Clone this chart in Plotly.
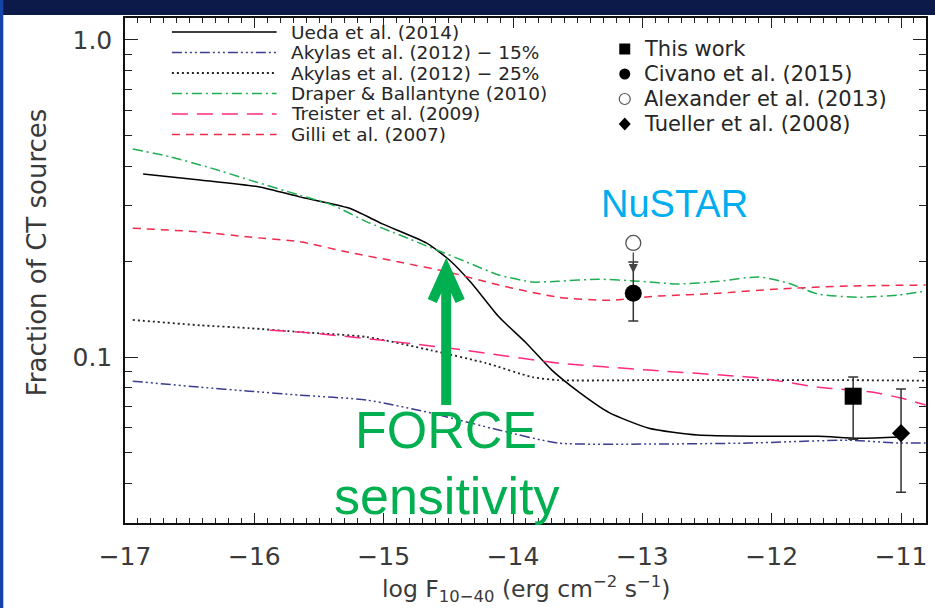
import math
import plotly.graph_objects as go

# ---------------- data ----------------
ueda_x = [-16.86, -16.42, -15.96, -15.65, -15.27, -15.01, -14.67, -14.49, -14.32, -14.11,
          -13.90, -13.70, -13.49, -13.26, -12.95, -12.57, -12.10, -11.64, -11.33, -11.00]
ueda_y = [0.378, 0.362, 0.344, 0.320, 0.295, 0.263, 0.229, 0.202, 0.171, 0.134,
          0.111, 0.091, 0.0776, 0.067, 0.0597, 0.0568, 0.0563, 0.0563, 0.0555, 0.056]

ak15_x = [-16.94, -16.42, -16.04, -15.65, -15.13, -14.63, -14.11, -13.65, -12.95, -12.18,
          -11.41, -11.02, -10.81]
ak15_y = [0.084, 0.0804, 0.0781, 0.0759, 0.0732, 0.0666, 0.0589, 0.0536, 0.0532, 0.0536,
          0.0547, 0.0536, 0.0536]

ak25_x = [-16.94, -16.42, -16.04, -15.65, -15.13, -14.63, -14.21, -13.85, -13.65, -12.95,
          -12.18, -11.41, -10.81]
ak25_y = [0.131, 0.126, 0.1234, 0.120, 0.1157, 0.105, 0.0958, 0.0865, 0.0846, 0.0846,
          0.0846, 0.0846, 0.0843]

draper_x = [-16.94, -16.65, -16.34, -16.04, -15.65, -15.40, -15.13, -14.88, -14.63, -14.36,
            -14.11, -13.85, -13.65, -13.34, -13.03, -12.72, -12.41, -12.10, -11.87, -11.64,
            -11.33, -11.02, -10.81]
draper_y = [0.453, 0.428, 0.395, 0.362, 0.324, 0.302, 0.267, 0.243, 0.221, 0.1995,
            0.1815, 0.1725, 0.1735, 0.176, 0.1735, 0.170, 0.1735, 0.179, 0.171, 0.158,
            0.1545, 0.157, 0.1615]

treister_x = [-15.88, -15.65, -15.01, -14.36, -13.65, -12.95, -12.10, -11.64,
              -11.23, -11.00, -10.81]
treister_y = [0.1216, 0.120, 0.113, 0.105, 0.0958, 0.091, 0.0859, 0.0804,
              0.0776, 0.0743, 0.0706]

gilli_x = [-16.94, -16.42, -16.04, -15.65, -15.27, -14.88, -14.49, -14.11, -13.65, -13.26,
           -12.88, -12.41, -11.95, -11.41, -10.81]
gilli_y = [0.255, 0.248, 0.239, 0.231, 0.214, 0.1995, 0.185, 0.1687, 0.1545, 0.151,
           0.1557, 0.159, 0.164, 0.1675, 0.1687]

# data points: x, y, upper, lower
this_x, this_y, this_hi, this_lo = [-11.37], [0.0753], [0.0866], [0.0551]
civano_x, civano_y, civano_hi, civano_lo = [-13.07], [0.159], [0.1995], [0.130]
alex_x, alex_y = [-13.07], [0.229]
alex_limit_tip = [0.184]
tueller_x, tueller_y, tueller_hi, tueller_lo = [-11.0], [0.0576], [0.0793], [0.0375]

x_ticks = [-17, -16, -15, -14, -13, -12, -11]
y_ticks = [0.1, 1.0]
y_ticktext = ["0.1", "1.0"]
y_minor = [0.03, 0.04, 0.05, 0.06, 0.07, 0.08, 0.09, 0.2, 0.3, 0.4, 0.5, 0.6, 0.7, 0.8, 0.9]

legend_lines = ["Ueda et al. (2014)", "Akylas et al. (2012) \u2212 15%", "Akylas et al. (2012) \u2212 25%",
                "Draper & Ballantyne (2010)", "Treister et al. (2009)", "Gilli et al. (2007)"]
legend_points = ["This work", "Civano et al. (2015)", "Alexander et al. (2013)", "Tueller et al. (2008)"]

# ---------------- styles ----------------
C_UEDA = "#000000"
C_AK15 = "#3c3c8c"
C_AK25 = "#222222"
C_DRAPER = "#1fae52"
C_TREISTER = "#ff2a80"
C_GILLI = "#ef2a4c"
D_AK15 = "10px,3px,2px,3px,2px,3px,2px,3px"
D_AK25 = "2px,3px"
D_DRAPER = "10px,4px,2px,4px"
D_TREISTER = "16px,9px"
D_GILLI = "8px,6px"
FONT = "DejaVu Sans"
TXT = "#3a3a3a"

W, H = 935, 608
L, R, T, B = 125, 928, 18, 523


def px(xp):
    return (xp - L) / (R - L)


def py(yp):
    return (B - yp) / (B - T)


fig = go.Figure()

curves = [
    (ueda_x, ueda_y, C_UEDA, "solid", 1.5),
    (ak15_x, ak15_y, C_AK15, D_AK15, 1.5),
    (ak25_x, ak25_y, C_AK25, D_AK25, 1.8),
    (draper_x, draper_y, C_DRAPER, D_DRAPER, 1.5),
    (treister_x, treister_y, C_TREISTER, D_TREISTER, 1.5),
    (gilli_x, gilli_y, C_GILLI, D_GILLI, 1.5),
]
for (xs, ys, col, dash, w), name in zip(curves, legend_lines):
    fig.add_trace(go.Scatter(x=xs, y=ys, mode="lines", name=name, showlegend=False,
                             line=dict(color=col, dash=dash, width=w, shape="spline", smoothing=0.6)))


def errs(y, hi, lo):
    return dict(type="data", symmetric=False,
                array=[h - v for h, v in zip(hi, y)],
                arrayminus=[v - l for l, v in zip(lo, y)],
                color="#333333", thickness=1.5, width=5)


fig.add_trace(go.Scatter(x=this_x, y=this_y, mode="markers", name=legend_points[0], showlegend=False,
                         marker=dict(symbol="square", size=17, color="black"),
                         error_y=errs(this_y, this_hi, this_lo)))
fig.add_trace(go.Scatter(x=civano_x, y=civano_y, mode="markers", name=legend_points[1], showlegend=False,
                         marker=dict(symbol="circle", size=17, color="black"),
                         error_y=errs(civano_y, civano_hi, civano_lo)))
fig.add_trace(go.Scatter(x=alex_x, y=alex_y, mode="markers", name=legend_points[2], showlegend=False,
                         marker=dict(symbol="circle-open", size=15, color="#555555", line=dict(width=1.3))))
fig.add_trace(go.Scatter(x=tueller_x, y=tueller_y, mode="markers", name=legend_points[3], showlegend=False,
                         marker=dict(symbol="diamond", size=14, color="black"),
                         error_y=errs(tueller_y, tueller_hi, tueller_lo)))

shapes = []
annotations = []

# upper-limit arrow for Alexander et al.
annotations.append(dict(x=alex_x[0], y=math.log10(alex_limit_tip[0]), xref="x", yref="y",
                        ax=0, ay=-22, text="", showarrow=True, arrowhead=2, arrowsize=1.4,
                        arrowwidth=1.3, arrowcolor="#444444", standoff=0))

# custom legend - lines
rows_l = [32, 52.5, 73, 93.5, 114, 134.5]
for (xs, ys, col, dash, w), name, yy in zip(curves, legend_lines, rows_l):
    shapes.append(dict(type="line", xref="paper", yref="paper", x0=px(172), x1=px(277),
                       y0=py(yy), y1=py(yy), line=dict(color=col, dash=dash, width=w)))
    annotations.append(dict(x=px(289), y=py(yy), xref="paper", yref="paper", text=name,
                            showarrow=False, xanchor="left", yanchor="middle",
                            font=dict(family=FONT, size=18.5, color="#262626")))

# custom legend - points
rows_r = [49, 74, 99, 124]
mx = 626
r = 5.5
shapes.append(dict(type="rect", xref="paper", yref="paper", x0=px(mx - r), x1=px(mx + r),
                   y0=py(rows_r[0] + r), y1=py(rows_r[0] - r), fillcolor="black", line=dict(width=0)))
shapes.append(dict(type="circle", xref="paper", yref="paper", x0=px(mx - r), x1=px(mx + r),
                   y0=py(rows_r[1] + r), y1=py(rows_r[1] - r), fillcolor="black", line=dict(width=0)))
shapes.append(dict(type="circle", xref="paper", yref="paper", x0=px(mx - r), x1=px(mx + r),
                   y0=py(rows_r[2] + r), y1=py(rows_r[2] - r), fillcolor="rgba(0,0,0,0)",
                   line=dict(color="#555555", width=1.2)))
yd = rows_r[3]
shapes.append(dict(type="path", xref="paper", yref="paper",
                   path=f"M {px(mx - 6)} {py(yd)} L {px(mx)} {py(yd - 6.5)} L {px(mx + 6)} {py(yd)} L {px(mx)} {py(yd + 6.5)} Z",
                   fillcolor="black", line=dict(width=0)))
for name, yy in zip(legend_points, rows_r):
    annotations.append(dict(x=px(643), y=py(yy), xref="paper", yref="paper", text=name,
                            showarrow=False, xanchor="left", yanchor="middle",
                            font=dict(family=FONT, size=21, color="#262626")))

# green FORCE arrow
G = "#00b050"
shapes.append(dict(type="line", xref="paper", yref="paper", x0=px(447), x1=px(447),
                   y0=py(405), y1=py(272), line=dict(color=G, width=10)))
shapes.append(dict(type="path", xref="paper", yref="paper",
                   path=f"M {px(433)} {py(301)} L {px(447)} {py(270)} L {px(461)} {py(301)}",
                   line=dict(color=G, width=10)))

annotations.append(dict(x=px(447), y=py(430), xref="paper", yref="paper", text="FORCE",
                        showarrow=False, xanchor="center", yanchor="middle",
                        font=dict(family="Liberation Sans", size=52, color=G)))
annotations.append(dict(x=px(447), y=py(496), xref="paper", yref="paper", text="sensitivity",
                        showarrow=False, xanchor="center", yanchor="middle",
                        font=dict(family="Liberation Sans", size=52, color=G)))
annotations.append(dict(x=px(676), y=py(204), xref="paper", yref="paper", text="NuSTAR",
                        showarrow=False, xanchor="center", yanchor="middle",
                        font=dict(family="Liberation Sans", size=38, color="#00aeef")))

# axis titles
annotations.append(dict(x=px(527), y=py(589), xref="paper", yref="paper",
                        text="log F<sub>10\u221240</sub> (erg cm<sup>\u22122</sup> s<sup>\u22121</sup>)",
                        showarrow=False, xanchor="center", yanchor="middle",
                        font=dict(family=FONT, size=23.5, color=TXT)))
annotations.append(dict(x=px(37), y=py(252), xref="paper", yref="paper",
                        text="Fraction of CT sources", textangle=-90,
                        showarrow=False, xanchor="center", yanchor="middle",
                        font=dict(family=FONT, size=26, color=TXT)))

# slide background bits (navy band at top, blue strip at left)
shapes.append(dict(type="rect", xref="paper", yref="paper", x0=px(-5), x1=px(940),
                   y0=py(15), y1=py(-5), fillcolor="#0c1a4a", line=dict(width=0), layer="above"))
shapes.append(dict(type="rect", xref="paper", yref="paper", x0=px(-5), x1=px(3),
                   y0=py(615), y1=py(0), fillcolor="#1444a8", line=dict(width=0), layer="above"))

fig.update_layout(
    width=W, height=H,
    margin=dict(l=L, r=W - R, t=T, b=H - B),
    paper_bgcolor="white", plot_bgcolor="white",
    showlegend=False,
    shapes=shapes, annotations=annotations,
    xaxis=dict(range=[-17, -10.807], tickvals=x_ticks, ticks="inside", ticklen=10, tickwidth=1.2,
               tickcolor="#222", showline=True, linecolor="#111", linewidth=1.5, mirror="ticks",
               showgrid=False, zeroline=False, ticklabelstandoff=10,
               tickfont=dict(family=FONT, size=25, color=TXT),
               minor=dict(dtick=0.1, ticks="inside", ticklen=5, tickwidth=1, tickcolor="#222", showgrid=False)),
    yaxis=dict(type="log", range=[math.log10(0.03), 0.069], tickvals=y_ticks, ticktext=y_ticktext,
               ticks="inside", ticklen=13, tickwidth=1.2, tickcolor="#222",
               showline=True, linecolor="#111", linewidth=1.5, mirror="ticks",
               showgrid=False, zeroline=False, ticklabelstandoff=6,
               tickfont=dict(family=FONT, size=25, color=TXT),
               minor=dict(tickvals=y_minor, ticks="inside", ticklen=7, tickwidth=1, tickcolor="#222", showgrid=False)),
)

fig.write_html("out.html")
